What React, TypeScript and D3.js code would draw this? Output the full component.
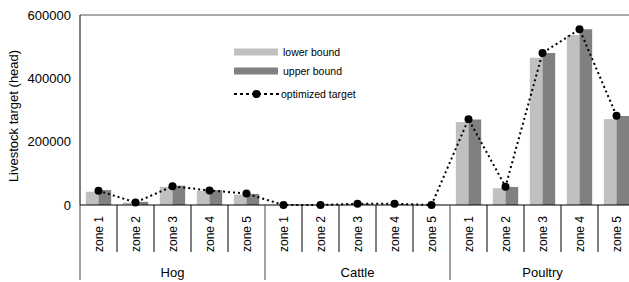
import { useEffect, useRef } from "react";
import * as d3 from "d3";

const groups = ["Hog", "Cattle", "Poultry"];
const zones = ["zone 1", "zone 2", "zone 3", "zone 4", "zone 5"];
const lowerBound = [42000, 8000, 57000, 45000, 33000, 1000, 1000, 3000, 2000, 500, 262000, 53000, 465000, 537000, 271000];
const upperBound = [47000, 10000, 61000, 47000, 35000, 1000, 1000, 4000, 3000, 500, 270000, 57000, 480000, 555000, 281000];
const optimized = [45000, 8000, 59000, 46000, 36000, 0, 0, 4000, 4000, 0, 271000, 58000, 480000, 555000, 282000];
const yTicks = [0, 200000, 400000, 600000];

const FONT = "Liberation Sans, Arial, sans-serif";

export default function App() {
  const ref = useRef<SVGSVGElement>(null);

  useEffect(() => {
    const svg = d3.select(ref.current);
    const width = 629;
    const height = 282;
    svg.selectAll("*").remove();
    svg.attr("width", width).attr("height", height).style("font-family", FONT);

    const left = 80;
    const bandW = 37;
    const keys = groups.flatMap((g) => zones.map((z) => `${g}|${z}`));
    const rows = keys.map((k, i) => ({
      key: k,
      group: k.split("|")[0],
      zone: k.split("|")[1],
      lower: lowerBound[i],
      upper: upperBound[i],
      opt: optimized[i],
    }));

    const x0 = d3.scaleBand().domain(keys).range([left, left + bandW * keys.length]);
    const x1 = d3
      .scaleBand()
      .domain(["lower", "upper"])
      .range([0, x0.bandwidth()])
      .paddingInner(0)
      .paddingOuter(0.46);
    const y = d3.scaleLinear().domain([0, 600000]).range([205, 15]);
    const right = left + bandW * keys.length;

    // frame: top border + left axis
    svg.append("line").attr("x1", left).attr("x2", right).attr("y1", y(600000)).attr("y2", y(600000))
      .attr("stroke", "#555").attr("stroke-width", 1.2);
    svg.append("line").attr("x1", left).attr("x2", left).attr("y1", y(600000)).attr("y2", y(0))
      .attr("stroke", "#000");

    svg.selectAll("text.ytick")
      .data(yTicks)
      .join("text")
      .attr("class", "ytick")
      .attr("x", left - 9)
      .attr("y", (d) => y(d))
      .attr("dy", "0.35em")
      .attr("text-anchor", "end")
      .style("font-size", "13px")
      .text((d) => d);

    svg.append("text")
      .attr("transform", "translate(13,116) rotate(-90)")
      .attr("text-anchor", "middle")
      .attr("dy", "0.35em")
      .style("font-size", "13px")
      .text("Livestock target (head)");

    // bars
    const bar = svg.append("g");
    rows.forEach((r) => {
      [["lower", r.lower, "#c0c0c0"], ["upper", r.upper, "#808080"]].forEach(([k, v, c]) => {
        bar.append("rect")
          .attr("x", (x0(r.key) ?? 0) + (x1(k as string) ?? 0))
          .attr("width", x1.bandwidth())
          .attr("y", y(v as number))
          .attr("height", y(0) - y(v as number))
          .attr("fill", c as string);
      });
    });

    // category axis
    svg.append("line").attr("x1", left).attr("x2", right).attr("y1", y(0)).attr("y2", y(0))
      .attr("stroke", "#000").attr("stroke-width", 1.2);
    keys.forEach((k, i) => {
      const xs = x0(k) ?? 0;
      const isGroup = i % zones.length === 0;
      svg.append("line").attr("x1", xs).attr("x2", xs).attr("y1", y(0))
        .attr("y2", isGroup ? 280 : 252).attr("stroke", isGroup ? "#444" : "#000");
    });
    svg.append("line").attr("x1", right).attr("x2", right).attr("y1", y(0)).attr("y2", 280).attr("stroke", "#444");

    svg.selectAll("text.zone")
      .data(rows)
      .join("text")
      .attr("class", "zone")
      .attr("transform", (d) => `translate(${(x0(d.key) ?? 0) + x0.bandwidth() / 2},234) rotate(-90)`)
      .attr("text-anchor", "middle")
      .attr("dy", "0.35em")
      .style("font-size", "12px")
      .text((d) => d.zone);

    groups.forEach((g) => {
      const first = x0(`${g}|${zones[0]}`) ?? 0;
      svg.append("text")
        .attr("x", first + (bandW * zones.length) / 2)
        .attr("y", 272)
        .attr("dy", "0.35em")
        .attr("text-anchor", "middle")
        .style("font-size", "13px")
        .text(g);
    });

    // optimized target line
    const cx = (d: { key: string }) => (x0(d.key) ?? 0) + x0.bandwidth() / 2;
    const line = d3.line<(typeof rows)[number]>().x(cx).y((d) => y(d.opt));
    svg.append("path")
      .datum(rows)
      .attr("d", line)
      .attr("fill", "none")
      .attr("stroke", "#000")
      .attr("stroke-width", 2)
      .attr("stroke-dasharray", "2,3");
    svg.selectAll("circle.opt")
      .data(rows)
      .join("circle")
      .attr("class", "opt")
      .attr("cx", cx)
      .attr("cy", (d) => y(d.opt))
      .attr("r", 4)
      .attr("fill", "#000");

    // legend
    const lg = svg.append("g").style("font-size", "10.5px");
    const items = [
      { label: "lower bound", color: "#c0c0c0", y: 52 },
      { label: "upper bound", color: "#808080", y: 71 },
    ];
    items.forEach((it) => {
      lg.append("rect").attr("x", 234).attr("y", it.y - 3.5).attr("width", 44).attr("height", 7).attr("fill", it.color);
      lg.append("text").attr("x", 283).attr("y", it.y).attr("dy", "0.35em").text(it.label);
    });
    lg.append("line").attr("x1", 234).attr("x2", 279).attr("y1", 94).attr("y2", 94)
      .attr("stroke", "#000").attr("stroke-width", 2).attr("stroke-dasharray", "3,3");
    lg.append("circle").attr("cx", 256.5).attr("cy", 94).attr("r", 4).attr("fill", "#000");
    lg.append("text").attr("x", 281).attr("y", 94).attr("dy", "0.35em").text("optimized target");
  }, []);

  return (
    <svg
      ref={ref}
      style={{ position: "absolute", left: 0, top: 0, background: "#fff" }}
      role="img"
      aria-label="Livestock target bar chart"
    />
  );
}
